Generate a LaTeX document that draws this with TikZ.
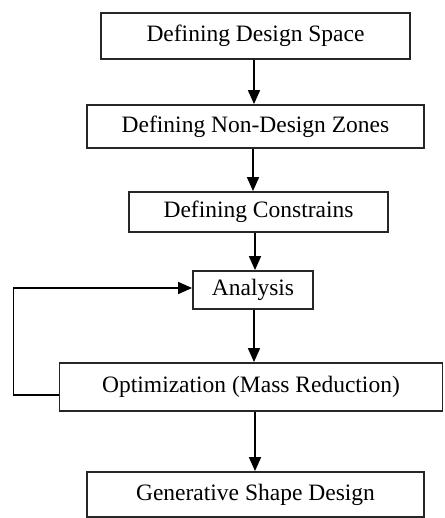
\documentclass[tikz,border=0pt]{standalone}
\usepackage{fontspec}
\setmainfont{Liberation Serif}
\usetikzlibrary{arrows.meta}

\begin{document}
\begin{tikzpicture}[x=1pt,y=-1pt,
    stepbox/.style={draw=black!85,line width=1.8pt,inner sep=0pt,font=\fontsize{23.5}{26}\selectfont},
    flow/.style={line width=1.6pt,-{Triangle[width=12pt,length=14pt]}}]
\useasboundingbox (0,0) rectangle (444,518);
\node [stepbox,minimum width=309,minimum height=46] (space) at (255.5,36) {Defining Design Space};
\node [stepbox,minimum width=337,minimum height=43] (zones) at (255.5,126.5) {Defining Non-Design Zones};
\node [stepbox,minimum width=259,minimum height=40] (constr) at (258.5,212) {Defining Constrains};
\node [stepbox,minimum width=120,minimum height=38] (analysis) at (253,290) {Analysis};
\node [stepbox,minimum width=383,minimum height=48] (optim) at (251,387) {Optimization (Mass Reduction)};
\node [stepbox,minimum width=337,minimum height=45] (gen) at (255.5,494.5) {Generative Shape Design};
\draw [flow] ([xshift=-1.5]space.south) -- ([xshift=-1.5]zones.north);
\draw [flow] ([xshift=-2.5]zones.south) -- ([xshift=-2.5]zones.south |- constr.north);
\draw [flow] ([xshift=-3.5]constr.south) -- ([xshift=-3.5]constr.south |- analysis.north);
\draw [flow] ([xshift=1]analysis.south) -- ([xshift=1]analysis.south |- optim.north);
\draw [flow] ([xshift=4]optim.south) -- ([xshift=-0.5]gen.north);
\draw [flow] ([yshift=-8]optim.west) -- ++(-45,0) |- ([yshift=2]analysis.west);
\end{tikzpicture}
\end{document}
